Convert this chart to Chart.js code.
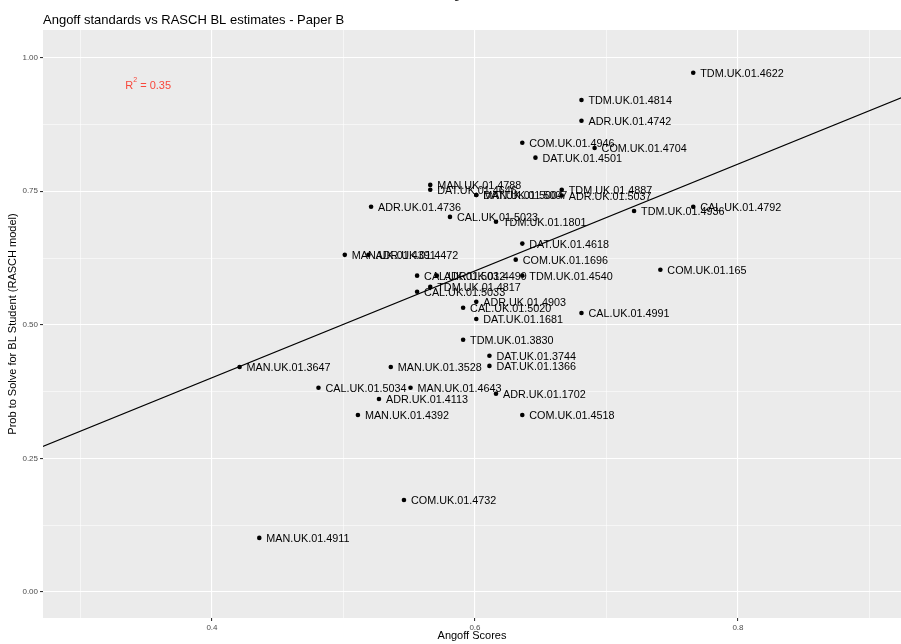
<!DOCTYPE html>
<html>
<head>
<meta charset="utf-8">
<script src="https://cdn.jsdelivr.net/npm/chart.js@4.4.1/dist/chart.umd.min.js"></script>
<style>
  body { margin: 0; background: #fff; }
  canvas { display: block; }
</style>
</head>
<body>
<canvas id="chartAngoff" width="901" height="644"></canvas>
<script>
// items, angoff score (x) and rasch probability (y)
var itemNames = [
    "TDM.UK.01.4622", "TDM.UK.01.4814", "ADR.UK.01.4742", "COM.UK.01.4946", "COM.UK.01.4704",
    "DAT.UK.01.4501", "MAN.UK.01.4788", "DAT.UK.01.4646", "DAT.UK.01.5004", "MAN.UK.01.5007",
    "TDM.UK.01.4887", "ADR.UK.01.5037", "CAL.UK.01.4792", "TDM.UK.01.4936", "ADR.UK.01.4736",
    "CAL.UK.01.5023", "TDM.UK.01.1801", "DAT.UK.01.4618", "MAN.UK.01.4391", "ADR.UK.01.4472",
    "COM.UK.01.1696", "CAL.UK.01.5032", "ADR.UK.01.4499", "TDM.UK.01.4540", "TDM.UK.01.4817",
    "CAL.UK.01.5033", "ADR.UK.01.4903", "CAL.UK.01.5020", "DAT.UK.01.1681", "CAL.UK.01.4991",
    "COM.UK.01.165", "TDM.UK.01.3830", "DAT.UK.01.3744", "DAT.UK.01.1366", "MAN.UK.01.3528",
    "MAN.UK.01.3647", "CAL.UK.01.5034", "MAN.UK.01.4643", "ADR.UK.01.4113", "ADR.UK.01.1702",
    "MAN.UK.01.4392", "COM.UK.01.4518", "COM.UK.01.4732", "MAN.UK.01.4911"
];
var angoffScores = [
    0.766, 0.681, 0.681, 0.636, 0.691,
    0.646, 0.566, 0.566, 0.601, 0.601,
    0.666, 0.666, 0.766, 0.721, 0.521,
    0.581, 0.616, 0.636, 0.501, 0.519,
    0.631, 0.556, 0.571, 0.636, 0.566,
    0.556, 0.601, 0.591, 0.601, 0.681,
    0.741, 0.591, 0.611, 0.611, 0.536,
    0.421, 0.481, 0.551, 0.527, 0.616,
    0.511, 0.636, 0.546, 0.436
];
var raschProbs = [
    0.972, 0.921, 0.882, 0.841, 0.831,
    0.813, 0.762, 0.753, 0.743, 0.743,
    0.753, 0.742, 0.721, 0.713, 0.721,
    0.702, 0.693, 0.652, 0.631, 0.631,
    0.622, 0.592, 0.592, 0.592, 0.571,
    0.562, 0.543, 0.532, 0.511, 0.522,
    0.603, 0.472, 0.442, 0.423, 0.421,
    0.421, 0.382, 0.382, 0.361, 0.371,
    0.331, 0.331, 0.172, 0.101
];

// fitted line end points
var fitX = [0.25, 0.95];
var fitY = [0.251, 0.951];

var xTicks = [0.3, 0.4, 0.5, 0.6, 0.7, 0.8, 0.9];
var xLabels = [0.4, 0.6, 0.8];
var yTicks = [0, 0.125, 0.25, 0.375, 0.5, 0.625, 0.75, 0.875, 1];
var yLabels = [0, 0.25, 0.5, 0.75, 1];

var points = angoffScores.map(function (v, i) {
    return { x: v, y: raschProbs[i] };
});
var fitLine = fitX.map(function (v, i) {
    return { x: v, y: fitY[i] };
});

function isMajor(list, v) {
    return list.some(function (m) { return Math.abs(m - v) < 1e-6; });
}

var FONT = "'Liberation Sans', Arial, Helvetica, sans-serif";

var ggPanel = {
    id: "ggPanel",
    beforeDraw: function (chart) {
        var a = chart.chartArea, c = chart.ctx;
        c.save();
        c.fillStyle = "#ebebeb";
        c.fillRect(a.left, a.top, a.right - a.left, a.bottom - a.top);
        c.restore();
    },
    afterDraw: function (chart) {
        var c = chart.ctx, xs = chart.scales.x, ys = chart.scales.y;
        c.save();
        // point labels
        c.font = "10.8px " + FONT;
        c.fillStyle = "#000";
        c.textBaseline = "middle";
        c.textAlign = "left";
        itemNames.forEach(function (name, i) {
            c.fillText(name, xs.getPixelForValue(angoffScores[i]) + 7, ys.getPixelForValue(raschProbs[i]) + 1);
        });
        // R squared note
        var rx = xs.getPixelForValue(0.334), ry = ys.getPixelForValue(0.948);
        c.fillStyle = "#f8473b";
        c.font = "11px " + FONT;
        c.fillText("R", rx, ry);
        var w = c.measureText("R").width;
        c.font = "7px " + FONT;
        c.fillText("2", rx + w, ry - 5);
        c.font = "11px " + FONT;
        c.fillText(" = 0.35", rx + w + 4, ry);
        // title
        c.fillStyle = "#000";
        c.font = "13px " + FONT;
        c.textBaseline = "alphabetic";
        c.fillText("Angoff standards vs RASCH BL estimates - Paper B", 43, 24);
        // cut off title from the chart above
        c.font = "11px " + FONT;
        c.textAlign = "center";
        c.fillText("Angoff Scores", 475, -1);
        c.restore();
    }
};

var ctxAngoff = document.getElementById("chartAngoff").getContext("2d");
var chart1 = new Chart(ctxAngoff, {
    type: "scatter",
    data: {
        datasets: [{
            label: "items",
            data: points,
            backgroundColor: "#000",
            borderColor: "#000",
            pointRadius: 2.3,
            pointBorderWidth: 0,
        }, {
            label: "fit",
            data: fitLine,
            showLine: true,
            borderColor: "#000",
            borderWidth: 1.1,
            pointRadius: 0,
        }],
    },
    options: {
        responsive: false,
        animation: false,
        layout: { autoPadding: false, padding: { top: 30, right: 0, left: 0, bottom: 0 } },
        plugins: {
            legend: { display: false },
            tooltip: { enabled: false },
        },
        scales: {
            x: {
                type: "linear",
                min: 0.2715,
                max: 0.924,
                afterFit: function (s) {
                    s.height = 26;
                    s.paddingLeft = 0;
                    s.paddingRight = 0;
                },
                afterBuildTicks: function (s) {
                    s.ticks = xTicks.map(function (v) { return { value: v }; });
                },
                border: { display: false },
                grid: {
                    color: "#fff",
                    lineWidth: function (c) { return isMajor(xLabels, c.tick.value) ? 1.1 : 0.55; },
                    tickColor: function (c) { return isMajor(xLabels, c.tick.value) ? "#333" : "rgba(0,0,0,0)"; },
                    tickLength: 3,
                },
                ticks: {
                    padding: 2,
                    color: "#4d4d4d",
                    font: { family: FONT, size: 8 },
                    maxRotation: 0,
                    autoSkip: false,
                    callback: function (v) { return isMajor(xLabels, v) ? v.toFixed(1) : ""; },
                },
                title: {
                    display: true,
                    text: "Angoff Scores",
                    color: "#000",
                    font: { family: FONT, size: 11 },
                    padding: { top: 0, bottom: 1 },
                },
            },
            y: {
                type: "linear",
                min: -0.049,
                max: 1.052,
                afterFit: function (s) {
                    s.width = 43;
                    s.paddingTop = 0;
                    s.paddingBottom = 0;
                },
                afterBuildTicks: function (s) {
                    s.ticks = yTicks.map(function (v) { return { value: v }; });
                },
                border: { display: false },
                grid: {
                    color: "#fff",
                    lineWidth: function (c) { return isMajor(yLabels, c.tick.value) ? 1.1 : 0.55; },
                    tickColor: function (c) { return isMajor(yLabels, c.tick.value) ? "#333" : "rgba(0,0,0,0)"; },
                    tickLength: 3,
                },
                ticks: {
                    padding: 2,
                    color: "#4d4d4d",
                    font: { family: FONT, size: 8 },
                    autoSkip: false,
                    callback: function (v) { return isMajor(yLabels, v) ? v.toFixed(2) : ""; },
                },
                title: {
                    display: true,
                    text: "Prob to Solve for BL Student (RASCH model)",
                    color: "#000",
                    font: { family: FONT, size: 11 },
                    padding: { top: 6, bottom: 0 },
                },
            },
        },
    },
    plugins: [ggPanel],
});
</script>
</body>
</html>
